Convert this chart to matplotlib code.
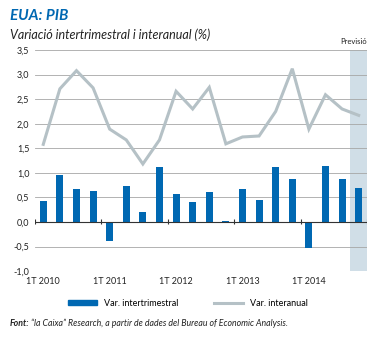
import matplotlib
matplotlib.use("Agg")
import matplotlib.pyplot as plt
import numpy as np
from matplotlib.lines import Line2D
from matplotlib.patches import Patch

quarters = ["1T 2010", "2T 2010", "3T 2010", "4T 2010",
            "1T 2011", "2T 2011", "3T 2011", "4T 2011",
            "1T 2012", "2T 2012", "3T 2012", "4T 2012",
            "1T 2013", "2T 2013", "3T 2013", "4T 2013",
            "1T 2014", "2T 2014", "3T 2014", "4T 2014"]
var_intertrimestral = [0.43, 0.96, 0.67, 0.63, -0.39, 0.73, 0.20, 1.12,
                       0.56, 0.40, 0.61, 0.01, 0.67, 0.44, 1.11, 0.87,
                       -0.54, 1.13, 0.88, 0.69]
var_interanual = [1.58, 2.71, 3.08, 2.73, 1.89, 1.67, 1.18, 1.67,
                  2.66, 2.30, 2.74, 1.59, 1.73, 1.75, 2.25, 3.12,
                  1.89, 2.59, 2.30, 2.17]
year_labels = ["1T 2010", "1T 2011", "1T 2012", "1T 2013", "1T 2014"]
yticks = [-1.0, -0.5, 0.0, 0.5, 1.0, 1.5, 2.0, 2.5, 3.0, 3.5]
forecast_start = 19

FONT = ["Lato", "DejaVu Sans"]
plt.rcParams['font.family'] = FONT
BLUE = "#0068b2"
GRAY = "#b5c1c6"

fig = plt.figure(figsize=(3.76, 3.38), dpi=100)
ax = fig.add_axes([0.093, 0.198, 0.883, 0.654])

x = np.arange(len(quarters))
ax.set_xlim(-0.5, len(quarters) - 0.5)
ax.set_ylim(-1.0, 3.5)

ax.axvspan(forecast_start - 0.5, len(quarters) - 0.5, color="#d0dee7", zorder=0, lw=0)
for yv in yticks:
    ax.axhline(yv, color="#a6a6a6", lw=0.6, zorder=1)
ax.axhline(0, color="#333333", lw=0.8, zorder=3)
boundaries = [i - 0.5 for i in range(0, len(quarters) + 1, 4)]
ax.vlines(boundaries, -0.05, 0.05, color="#333333", lw=0.8, zorder=3)

ax.bar(x, var_intertrimestral, width=0.42, color=BLUE, zorder=2)
ax.plot(x, var_interanual, color=GRAY, lw=2.2, zorder=2, solid_joinstyle="miter")

ax.set_yticks(yticks)
ax.set_yticklabels([f"{v:.1f}".replace(".", ",") for v in yticks], fontsize=6.5, color="#222222")
ax.set_xticks([quarters.index(l) for l in year_labels])
ax.set_xticklabels(year_labels, fontsize=6.5, color="#222222")
ax.tick_params(length=0, pad=4)
for s in ax.spines.values():
    s.set_visible(False)

ax.text(len(quarters) - 0.5, 3.6, "Previsió", ha="right", va="bottom", fontsize=5.5, color="#222222")

fig.text(0.026, 0.952, "EUA: PIB", fontsize=11, fontweight="bold", style="italic", color=BLUE, va="center")
fig.text(0.026, 0.898, "Variació intertrimestral i interanual (%)", fontsize=9, style="italic", color="#222222", va="center")

handles = [Patch(color=BLUE), Line2D([0], [0], color=GRAY, lw=2.2)]
fig.legend(handles, ["Var. intertrimestral", "Var. interanual"], loc="center",
           bbox_to_anchor=(0.5, 0.103), ncol=2, frameon=False, fontsize=6.5,
           handlelength=3.2, handleheight=0.35, columnspacing=4.0, handletextpad=0.8)

fig.text(0.027, 0.043, "Font:", fontsize=6.3, style="italic", fontweight="bold", color="#222222", va="center")
fig.text(0.083, 0.043, "“la Caixa” Research, a partir de dades del Bureau of Economic Analysis.",
         fontsize=6.3, style="italic", color="#222222", va="center")

fig.savefig("out.png", dpi=100)
